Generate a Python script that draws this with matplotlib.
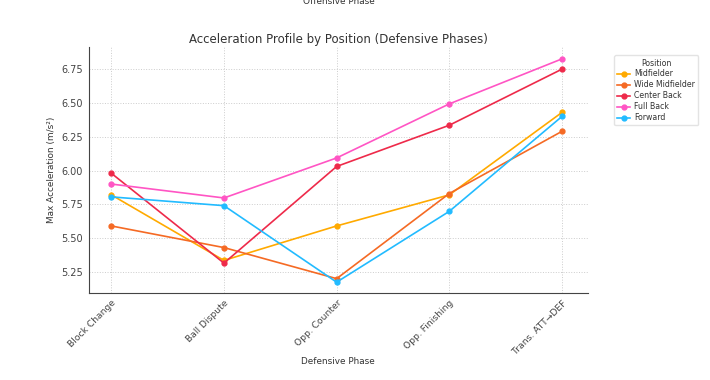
import numpy as np
import matplotlib.pyplot as plt

phases = ["Block Change", "Ball Dispute", "Opp. Counter", "Opp. Finishing", "Trans. ATT\u2192DEF"]
positions = ["Midfielder", "Wide Midfielder", "Center Back", "Full Back", "Forward"]

midfielder = [5.82, 5.335, 5.59, 5.82, 6.43]
wide_midfielder = [5.59, 5.43, 5.20, 5.83, 6.29]
center_back = [5.98, 5.315, 6.03, 6.335, 6.75]
full_back = [5.90, 5.797, 6.093, 6.493, 6.826]
forward = [5.805, 5.74, 5.174, 5.698, 6.40]

colors = ["#FFAA00", "#F56A24", "#EE2A4A", "#FF55C4", "#22BBFF"]

plt.rcParams['font.family'] = ['DejaVu Sans']
text_color = "#333333"

fig = plt.figure(figsize=(7.1, 3.8), dpi=100)
ax = fig.add_axes([0.125, 0.229, 0.703, 0.647])

series = [midfielder, wide_midfielder, center_back, full_back, forward]
x = np.arange(len(phases))
for name, vals, c in zip(positions, series, colors):
    ax.plot(x, vals, color=c, marker="o", markersize=3.5, linewidth=1.2, label=name)

ax.set_xticks(x)
ax.set_xticklabels(phases, rotation=45, ha="right", rotation_mode="anchor", fontsize=6.6, color=text_color)
ax.set_yticks([5.25, 5.5, 5.75, 6.0, 6.25, 6.5, 6.75])
ax.set_yticklabels(["5.25", "5.50", "5.75", "6.00", "6.25", "6.50", "6.75"], fontsize=7, color=text_color)
ax.set_xlim(-0.2, 4.23)
ax.set_ylim(5.094, 6.913)

ax.grid(True, linestyle=":", color="#cccccc", linewidth=0.7)
ax.set_axisbelow(True)
for side in ["top", "right"]:
    ax.spines[side].set_visible(False)
for side in ["left", "bottom"]:
    ax.spines[side].set_color("#444444")
ax.tick_params(colors="#444444", length=0, pad=4)

ax.set_title("Acceleration Profile by Position (Defensive Phases)", fontsize=8.5, color=text_color, pad=3)
ax.set_xlabel("Defensive Phase", fontsize=6.4, color=text_color, labelpad=1)
ax.set_ylabel("Max Acceleration (m/s\u00b2)", fontsize=6.4, color=text_color)

leg = ax.legend(title="Position", loc="upper left", bbox_to_anchor=(1.045, 0.982),
                fontsize=5.6, title_fontsize=5.6, frameon=True, handlelength=1.6,
                labelspacing=0.25, borderpad=0.4, handletextpad=0.6)
leg.get_frame().set_edgecolor("#dddddd")
for t in leg.get_texts():
    t.set_color(text_color)
leg.get_title().set_color(text_color)

# clipped label left over from the offensive panel above
fig.text(0.477, 0.997, "Offensive Phase", ha="center", va="center", fontsize=6.4, color=text_color)

fig.savefig("out.png", dpi=100)
